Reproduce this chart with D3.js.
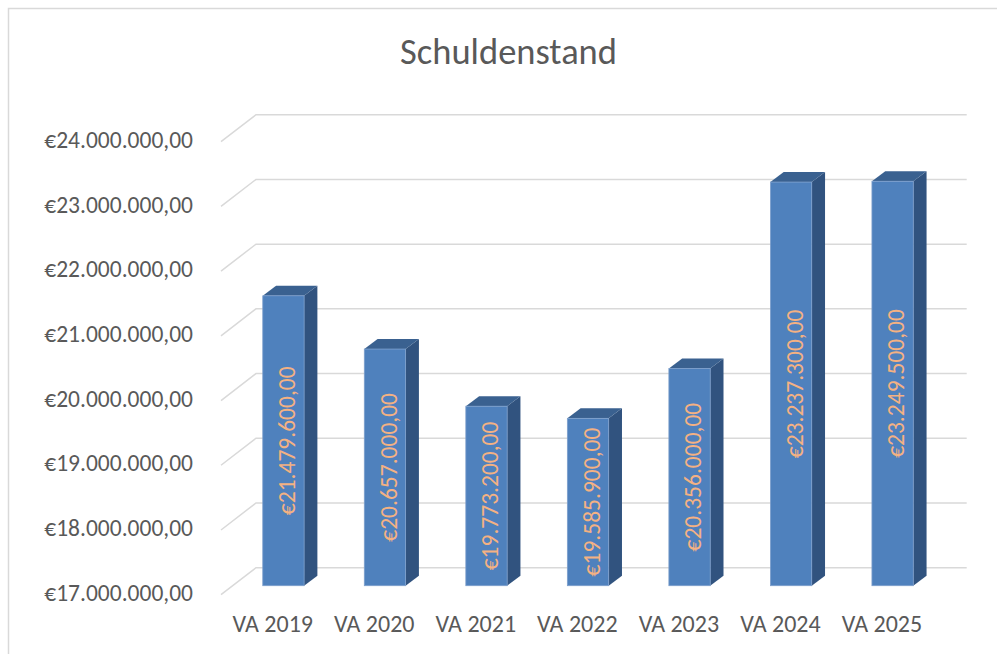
<!DOCTYPE html>
<html>
<head>
<meta charset="utf-8">
<script src="https://cdn.jsdelivr.net/npm/d3@7"></script>
<style>
body { margin: 0; background: #fff; }
text { font-family: Calibri, Carlito, "Liberation Sans", Arial, sans-serif; fill: #595959; }
.grid { stroke: #d9d9d9; stroke-width: 1.5; fill: none; }
</style>
</head>
<body>
<div id="chart"></div>
<script>
// Schuldenstand per jaar
var categories = ["VA 2019", "VA 2020", "VA 2021", "VA 2022", "VA 2023", "VA 2024", "VA 2025"];
var values = [21479600, 20657000, 19773200, 19585900, 20356000, 23237300, 23249500];
var yTicks = [17000000, 18000000, 19000000, 20000000, 21000000, 22000000, 23000000, 24000000];
var title = "Schuldenstand";

var W = 997, H = 654;

// 3d look: back wall, depth of the floor/side wall, depth of a bar
var back = {left: 256, right: 966.7, top: 114.7, bottom: 567.7};
var wallDx = 35, wallDy = 27;      // back wall -> front edge
var barShift = 18;                 // bar front face sits this far down from back wall
var barDx = 13.3, barDy = 10;      // bar depth

var nl = d3.formatLocale({decimal: ",", thousands: ".", grouping: [3], currency: ["€", ""]});
var fmt = nl.format("$,.2f");

var svg = d3.select("#chart").append("svg").attr("width", W).attr("height", H);

svg.append("rect").attr("x", 8.5).attr("y", 8.5).attr("width", W).attr("height", H)
	.attr("fill", "none").attr("stroke", "#d9d9d9").attr("stroke-width", 1.5);

svg.append("text").attr("x", 508.5).attr("y", 63.5).attr("text-anchor", "middle")
	.style("font-size", "36.5px").text(title);

var y = d3.scaleLinear().domain([yTicks[0], yTicks[yTicks.length - 1]]).range([back.bottom, back.top]);

// front plane of the floor, categories spread along it
var x = d3.scaleBand().domain(categories).range([back.left - wallDx, back.right - wallDx]).padding(0);
var bw = x.bandwidth();
var barW = bw * 0.407;
var planeDx = (wallDy - barShift) * wallDx / wallDy;   // bar front plane, measured from the front edge

// gridlines on back wall + side wall diagonals
svg.append("g").selectAll("path").data(yTicks).join("path")
	.attr("class", "grid")
	.attr("d", d => "M" + (back.left - wallDx) + "," + (y(d) + wallDy) +
		"L" + back.left + "," + y(d) + "L" + back.right + "," + y(d));

// y tick labels at the front edge
svg.append("g").selectAll("text").data(yTicks).join("text")
	.attr("x", back.left - wallDx - 28)
	.attr("y", d => y(d) + wallDy - 2)
	.attr("dy", "0.35em")
	.attr("text-anchor", "end")
	.style("font-size", "23.5px")
	.text(d => fmt(d));

// category labels
svg.append("g").selectAll("text").data(categories).join("text")
	.attr("x", d => x(d) + bw / 2 + 1)
	.attr("y", 631.5)
	.attr("text-anchor", "middle")
	.style("font-size", "24px")
	.text(d => d);

var bars = svg.append("g").selectAll("g").data(values).join("g");

function fx(i) { return x(categories[i]) + planeDx + (bw - barW) / 2; }
function ft(d) { return y(d) + barShift; }
var fb = y(yTicks[0]) + barShift;

// right side
bars.append("path")
	.attr("fill", "#31537f")
	.attr("d", (d, i) => {
		var x0 = fx(i) + barW, t = ft(d);
		return "M" + x0 + "," + t + "L" + (x0 + barDx) + "," + (t - barDy) +
			"L" + (x0 + barDx) + "," + (fb - barDy) + "L" + x0 + "," + fb + "Z";
	});

// top
bars.append("path")
	.attr("fill", "#3a6190")
	.attr("d", (d, i) => {
		var x0 = fx(i), t = ft(d);
		return "M" + x0 + "," + t + "L" + (x0 + barDx) + "," + (t - barDy) +
			"L" + (x0 + barW + barDx) + "," + (t - barDy) + "L" + (x0 + barW) + "," + t + "Z";
	});

// front
bars.append("rect")
	.attr("x", (d, i) => fx(i))
	.attr("y", d => ft(d))
	.attr("width", barW)
	.attr("height", d => fb - ft(d))
	.attr("fill", "#4f81bd")
	.attr("stroke", "#7d9fcc").attr("stroke-width", 0.8);

// value labels, rotated, centred on the front face
bars.append("text")
	.attr("transform", (d, i) => "translate(" + (fx(i) + barW / 2 + 3.5) + "," + ((ft(d) + fb) / 2) + ") rotate(-90)")
	.attr("text-anchor", "middle")
	.attr("dy", "0.35em")
	.style("font-size", "23.5px")
	.style("fill", "#f4b183")
	.text(d => fmt(d));
</script>
</body>
</html>
